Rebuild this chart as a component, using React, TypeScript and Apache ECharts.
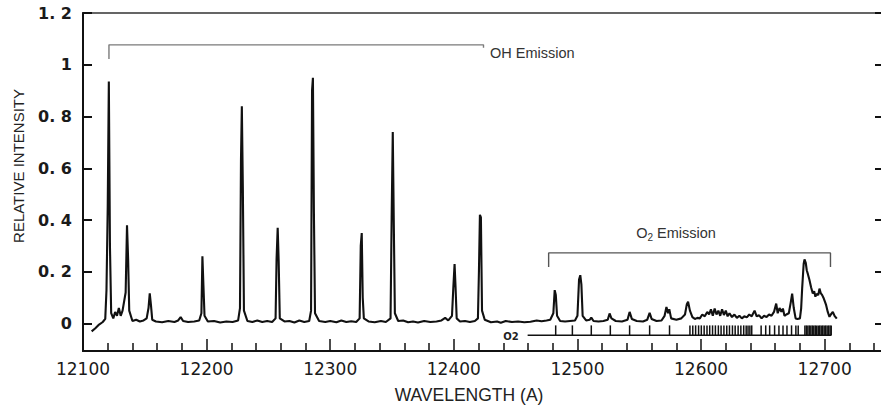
import React, { useEffect, useRef } from "react";
import * as echarts from "echarts";

// Spectrum (wavelength in Å, relative intensity)
const WAVELENGTH = [
  12107, 12110, 12113, 12116, 12118, 12119, 12120, 12120.9, 12121.8, 12122.8,
  12124.5, 12126, 12127.5, 12129, 12130.5, 12132, 12134.5, 12135.6, 12136.5, 12137.4,
  12140, 12143, 12146, 12149, 12151.5, 12153, 12154, 12155, 12156, 12159,
  12164, 12169, 12174, 12177, 12179, 12181, 12185, 12190, 12194, 12195.8,
  12196.6, 12197.4, 12198.3, 12201, 12206, 12211, 12216, 12221, 12225.5, 12227,
  12227.8, 12228.5, 12229.3, 12230.2, 12233, 12237, 12241, 12245, 12249, 12253,
  12255.8, 12256.6, 12257.5, 12258.3, 12259.2, 12263, 12267, 12271, 12275, 12279,
  12283, 12284.5, 12285.3, 12286, 12286.8, 12287.7, 12291, 12296, 12300, 12305,
  12309, 12313, 12317, 12321, 12323.8, 12324.7, 12325.5, 12326.3, 12327.2, 12331,
  12336, 12341, 12345, 12348.8, 12349.7, 12350.6, 12351.4, 12352.3, 12355, 12359,
  12363, 12367, 12371, 12376, 12381, 12386, 12390, 12393, 12395.5, 12398.5,
  12399.6, 12400.6, 12401.4, 12402.3, 12405, 12409, 12413, 12417, 12419.5, 12420.3,
  12421.1, 12421.9, 12422.8, 12425, 12430, 12435, 12438, 12442, 12447, 12452,
  12457, 12462, 12467, 12471, 12475, 12478, 12480.5, 12481.6, 12482.5, 12483.5,
  12486, 12490, 12494, 12498, 12500, 12501.3, 12502.3, 12503.2, 12504.2, 12507,
  12510, 12511.2, 12513, 12517, 12521, 12524.5, 12526, 12527.5, 12531, 12536,
  12540.5, 12542.2, 12544, 12548, 12553, 12556.5, 12558.4, 12560, 12564, 12568,
  12570.5, 12572, 12573.3, 12574.3, 12575.8, 12580, 12584, 12587, 12588.5, 12589.5,
  12591, 12593, 12595, 12597, 12599, 12601, 12603, 12605, 12606.5, 12608,
  12609.5, 12611, 12612.5, 12614, 12615.5, 12617, 12618.5, 12620, 12621.5, 12623,
  12625, 12627, 12629, 12631, 12633, 12635, 12637, 12639, 12641, 12643.3,
  12645, 12647, 12649, 12651, 12653, 12655, 12657, 12659, 12660.8, 12662,
  12663.5, 12665, 12666.2, 12667.5, 12669, 12671, 12672.5, 12673.7, 12675, 12676.5,
  12678, 12680, 12681, 12681.8, 12683, 12683.7, 12684.7, 12685.5, 12686.5, 12687.7,
  12689, 12690.4, 12691.5, 12692.5, 12693.5, 12694.8, 12695.8, 12696.8, 12698, 12699,
  12700.2, 12701.2, 12702.5, 12703.9, 12705, 12706.6, 12708, 12709.8,
];
const INTENSITY = [
  -0.03, -0.018, -0.004, 0.006, 0.018, 0.13, 0.45, 0.935, 0.3, 0.04,
  0.02, 0.045, 0.03, 0.06, 0.03, 0.05, 0.12, 0.38, 0.25, 0.05,
  0.01, 0.015, 0.008, 0.012, 0.02, 0.06, 0.117, 0.07, 0.015, 0.008,
  0.005, 0.01, 0.006, 0.012, 0.025, 0.01, 0.006, 0.008, 0.012, 0.04,
  0.26, 0.15, 0.03, 0.008, 0.01, 0.004, 0.008, 0.006, 0.012, 0.06,
  0.63, 0.84, 0.53, 0.05, 0.01, 0.006, 0.012, 0.006, 0.01, 0.006,
  0.02, 0.25, 0.37, 0.24, 0.02, 0.008, 0.01, 0.004, 0.012, 0.006,
  0.01, 0.05, 0.9, 0.95, 0.43, 0.04, 0.01, 0.006, 0.01, 0.005,
  0.012, 0.006, 0.009, 0.006, 0.02, 0.3, 0.35, 0.1, 0.02, 0.008,
  0.005, 0.01, 0.006, 0.02, 0.41, 0.74, 0.4, 0.04, 0.01, 0.012,
  0.005, 0.008, 0.004, 0.01, 0.006, 0.008, 0.012, 0.022, 0.012, 0.03,
  0.14, 0.23, 0.14, 0.02, 0.008, 0.01, 0.006, 0.01, 0.02, 0.2,
  0.42, 0.41, 0.05, 0.015, 0.005, 0.008, 0.003, 0.01, 0.006, 0.008,
  0.005, 0.007, 0.012, 0.009, 0.012, 0.015, 0.04, 0.129, 0.11, 0.03,
  0.01, 0.008, 0.01, 0.012, 0.03, 0.17, 0.187, 0.15, 0.03, 0.012,
  0.015, 0.023, 0.01, 0.008, 0.01, 0.015, 0.039, 0.02, 0.01, 0.008,
  0.015, 0.045, 0.018, 0.01, 0.008, 0.015, 0.041, 0.018, 0.01, 0.012,
  0.03, 0.064, 0.04, 0.055, 0.02, 0.015, 0.02, 0.035, 0.075, 0.084,
  0.05, 0.025, 0.018, 0.022, 0.02, 0.035, 0.028, 0.045, 0.035, 0.055,
  0.03, 0.058, 0.035, 0.05, 0.03, 0.055, 0.033, 0.05, 0.028, 0.04,
  0.025, 0.035, 0.022, 0.03, 0.02, 0.028, 0.024, 0.035, 0.028, 0.05,
  0.028, 0.032, 0.02, 0.03, 0.025, 0.035, 0.03, 0.045, 0.077, 0.04,
  0.06, 0.045, 0.058, 0.03, 0.035, 0.04, 0.08, 0.116, 0.06, 0.02,
  0.018, 0.02, 0.06, 0.137, 0.23, 0.248, 0.235, 0.206, 0.19, 0.168,
  0.14, 0.116, 0.125, 0.104, 0.115, 0.11, 0.135, 0.118, 0.11, 0.1,
  0.085, 0.071, 0.045, 0.026, 0.035, 0.045, 0.03, 0.019,
];

// O2 line positions (Å)
const O2_LINES = [
  12482.4, 12495.9, 12511.2, 12526.6, 12542.2, 12558.4, 12574.5,
  12591, 12593.3, 12595.6, 12598, 12600.2, 12602.5, 12604.8, 12607, 12609.3,
  12611.6, 12614, 12616.2, 12618.5, 12620.8, 12623, 12625.4, 12627.6, 12630,
  12632.2, 12634.5, 12636.5, 12638, 12639.5, 12641,
  12648.6, 12652.3, 12655.5, 12659.5, 12663, 12666.3, 12669.5, 12673.2, 12676.7, 12678.6,
  12684, 12685.2, 12686.4, 12687.6, 12688.8, 12690, 12691.2, 12692.4, 12693.6,
  12694.8, 12696, 12697.2, 12698.4, 12699.6, 12700.8, 12702, 12703.2, 12704.4, 12705.3,
];

const X_MAJOR = [12100, 12200, 12300, 12400, 12500, 12600, 12700];
const X_MINOR = [
  12120, 12140, 12160, 12180, 12220, 12240, 12260, 12280, 12320, 12340, 12360, 12380,
  12420, 12440, 12460, 12480, 12520, 12540, 12560, 12580, 12620, 12640, 12660, 12680,
  12720, 12740,
];
const Y_TICKS = [0, 0.2, 0.4, 0.6, 0.8, 1, 1.2];

const OH_BRACKET = [[12121, 1.022], [12121, 1.077], [12424, 1.077], [12424, 1.066]];
const O2_BRACKET = [[12476.7, 0.219], [12476.7, 0.273], [12704.7, 0.273], [12704.7, 0.219]];
const O2_BASE = [[12459.7, -0.045], [12705.5, -0.045]];

export default function App() {
  const ref = useRef<HTMLDivElement>(null);
  useEffect(() => {
    if (!ref.current) return;
    const chart = echarts.init(ref.current, null, { renderer: "svg" });
    const spectrum = WAVELENGTH.map((w, i) => [w, INTENSITY[i]]);
    const xMin = 12100;
    const xMax = 12748;
    const yMin = -0.106;
    const yMax = 1.2;
    chart.setOption({
      animation: false,
      backgroundColor: "#ffffff",
      grid: {
        left: 83,
        top: 13,
        right: -3,
        bottom: 57,
        show: true,
        borderColor: "#333",
        borderWidth: 1.5,
        outerBoundsMode: "none",
        containLabel: false,
      },
      xAxis: [
        {
          type: "value",
          min: xMin,
          max: xMax,
          position: "bottom",
          splitLine: { show: false },
          axisLine: { show: true, onZero: false, lineStyle: { color: "#111", width: 2 } },
          axisTick: {
            show: true,
            inside: true,
            length: 12,
            customValues: X_MAJOR,
            lineStyle: { color: "#111", width: 1.5 },
          },
          axisLabel: {
            show: true,
            customValues: X_MAJOR,
            margin: 9,
            color: "#1a1a1a",
            fontFamily: "DejaVu Sans",
            fontSize: 17,
            formatter: (v: number) => String(v),
          },
        },
        {
          type: "value",
          min: xMin,
          max: xMax,
          position: "bottom",
          offset: 0,
          splitLine: { show: false },
          axisLine: { show: false, onZero: false },
          axisTick: {
            show: true,
            inside: true,
            length: 8,
            customValues: X_MINOR,
            lineStyle: { color: "#111", width: 1.5 },
          },
          axisLabel: { show: false },
        },
      ],
      yAxis: [
        {
          type: "value",
          min: yMin,
          max: yMax,
          position: "left",
          splitLine: { show: false },
          axisLine: { show: true, onZero: false, lineStyle: { color: "#111", width: 2 } },
          axisTick: {
            show: true,
            inside: true,
            length: 9,
            customValues: Y_TICKS,
            lineStyle: { color: "#111", width: 2 },
          },
          axisLabel: {
            show: true,
            customValues: Y_TICKS,
            margin: 11,
            color: "#1a1a1a",
            fontFamily: "DejaVu Sans",
            fontWeight: "bold",
            fontSize: 16,
            formatter: (v: number) => {
              if (Math.abs(v) < 1e-9) return "0";
              if (Math.abs(v - 1) < 1e-9) return "1";
              return v.toFixed(1).replace(".", ". ");
            },
          },
        },
        {
          type: "value",
          min: yMin,
          max: yMax,
          position: "right",
          splitLine: { show: false },
          axisLine: { show: false, onZero: false },
          axisTick: {
            show: true,
            inside: true,
            length: 9,
            customValues: Y_TICKS,
            lineStyle: { color: "#111", width: 2 },
          },
          axisLabel: { show: false },
        },
      ],
      series: [
        {
          type: "line",
          data: spectrum,
          showSymbol: false,
          symbol: "none",
          silent: true,
          lineStyle: { color: "#111", width: 2.1 },
          z: 5,
        },
        {
          type: "line",
          data: OH_BRACKET,
          showSymbol: false,
          symbol: "none",
          silent: true,
          lineStyle: { color: "#7a7a7a", width: 1.4 },
        },
        {
          type: "line",
          data: O2_BRACKET,
          showSymbol: false,
          symbol: "none",
          silent: true,
          lineStyle: { color: "#555", width: 1.4 },
        },
        {
          type: "line",
          data: O2_BASE,
          showSymbol: false,
          symbol: "none",
          silent: true,
          lineStyle: { color: "#111", width: 1.6 },
        },
        {
          type: "custom",
          silent: true,
          data: O2_LINES.map((w) => [w, 0]),
          renderItem: (_params: any, api: any) => {
            const x = api.value(0);
            const p1 = api.coord([x, -0.045]);
            const p2 = api.coord([x, -0.007]);
            return {
              type: "line",
              shape: { x1: p1[0], y1: p1[1], x2: p2[0], y2: p2[1] },
              style: { stroke: "#111", lineWidth: 1.5 },
            };
          },
        },
      ],
      graphic: [
        {
          type: "text",
          x: 18,
          y: 166,
          rotation: Math.PI / 2,
          style: {
            text: "RELATIVE INTENSITY",
            fill: "#222",
            fontFamily: "Liberation Sans",
            fontSize: 15,
            align: "center",
            verticalAlign: "middle",
          },
        },
        {
          type: "text",
          x: 469,
          y: 395,
          style: {
            text: "WAVELENGTH (A)",
            fill: "#222",
            fontFamily: "Liberation Sans",
            fontSize: 17.5,
            align: "center",
            verticalAlign: "middle",
          },
        },
        {
          type: "text",
          x: 490,
          y: 53,
          style: {
            text: "OH Emission",
            fill: "#333",
            fontFamily: "Liberation Sans",
            fontSize: 14.5,
            align: "left",
            verticalAlign: "middle",
          },
        },
        {
          type: "text",
          x: 676,
          y: 233,
          style: {
            text: "{a|O}{b|2}{a| Emission}",
            fill: "#333",
            align: "center",
            verticalAlign: "middle",
            rich: {
              a: { fontFamily: "Liberation Sans", fontSize: 14.5, fill: "#333" },
              b: { fontFamily: "Liberation Sans", fontSize: 10, fill: "#333", padding: [8, 0, 0, 0] },
            },
          },
        },
        {
          type: "text",
          x: 511,
          y: 336,
          style: {
            text: "O2",
            fill: "#222",
            fontFamily: "DejaVu Sans",
            fontWeight: "bold",
            fontSize: 10,
            align: "center",
            verticalAlign: "middle",
          },
        },
      ],
    });
    return () => chart.dispose();
  }, []);
  return (
    <div
      ref={ref}
      style={{ position: "fixed", left: 0, top: 0, width: 881, height: 408, background: "#fff" }}
    />
  );
}
